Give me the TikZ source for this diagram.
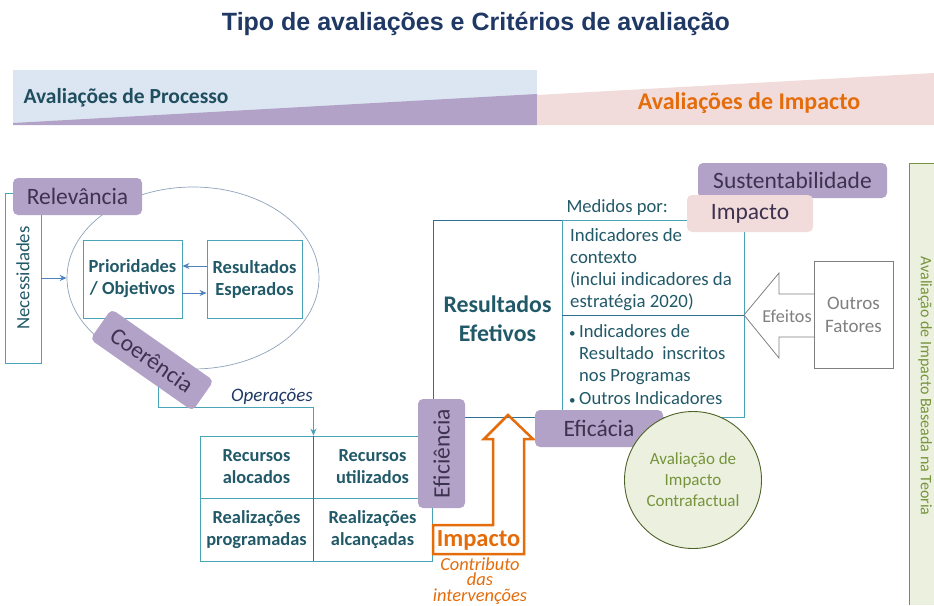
\documentclass[tikz,border=0pt]{standalone}
\usepackage{fontspec}
\setmainfont{Carlito}
\newfontfamily\titlefont{Liberation Sans}
\usetikzlibrary{shapes.geometric,arrows.meta}
\definecolor{cNavy}{HTML}{1F3864}
\definecolor{cDark}{HTML}{1F4E5F}
\definecolor{cTeal}{HTML}{215968}
\definecolor{cTealL}{HTML}{4BA3B8}
\definecolor{cTealD}{HTML}{2F6F8F}
\definecolor{cPurple}{HTML}{B3A2C7}
\definecolor{cPText}{HTML}{3D3350}
\definecolor{cPink}{HTML}{F2DCDB}
\definecolor{cBlue}{HTML}{DCE6F2}
\definecolor{cOrange}{HTML}{E46C0A}
\definecolor{cGreenL}{HTML}{EBF1DE}
\definecolor{cOlive}{HTML}{77933C}
\definecolor{cOliveD}{HTML}{4F6228}
\definecolor{cGray}{HTML}{7F7F7F}
\definecolor{cArrow}{HTML}{4F81BD}
\definecolor{cEll}{HTML}{8DA2BA}
\begin{document}
\begin{tikzpicture}[x=1pt,y=-1pt,
  tbox/.style={draw=cTealL, line width=0.9pt, inner sep=0pt, align=center, text=cTeal},
  plabel/.style={fill=cPurple, rounded corners=5pt, inner sep=0pt, text=cPText, font=\fontsize{23.5}{26}\selectfont},
  arr/.style={-{Stealth[length=7pt,width=6pt]}, draw=cArrow, line width=0.9pt},
  boldtxt/.style={font=\bfseries\fontsize{18.4}{22}\selectfont}]
\useasboundingbox (0,0) rectangle (934,605);

% banner
\fill[cBlue] (13,70) rectangle (537,125);
\fill[cPurple] (13,123) -- (537,94) -- (537,125) -- (13,125) -- cycle;
\fill[cPink] (537,95) -- (934,73) -- (934,125) -- (537,125) -- cycle;
\node[anchor=west, text=cDark, font=\bfseries\fontsize{21.5}{24}\selectfont] (proc) at (20,98) {Avaliações de Processo};
\node[text=cOrange, font=\bfseries\fontsize{24}{26}\selectfont] (impt) at (749,103) {Avaliações de Impacto};

% title
\node[text=cNavy, font=\titlefont\bfseries\fontsize{25}{28}\selectfont] (title) at (476,24) {Tipo de avaliações e Critérios de avaliação};

% ellipse and inner boxes
\node[ellipse, draw=cEll, line width=0.7pt, minimum width=252pt, minimum height=182pt, inner sep=0pt] (ell) at (193,278) {};
\node[tbox, minimum width=36pt, minimum height=170pt] (nec) at (23,278) {};
\node[rotate=90, text=cTeal, font=\fontsize{18.8}{20}\selectfont] (nect) at (nec.center) {Necessidades};
\node[tbox, font=\bfseries\fontsize{18.5}{22}\selectfont, minimum width=99pt, minimum height=78pt] (prio) at (132.5,279) {Prioridades\\/ Objetivos};
\node[tbox, font=\bfseries\fontsize{18.5}{22}\selectfont, minimum width=95pt, minimum height=78pt] (resE) at (254.5,279) {Resultados\\Esperados};
\draw[arr] (nec.east) -- (ell.west);
\draw[arr] ([yshift=13pt]resE.west) -- ([yshift=13pt]prio.east);
\draw[arr] ([yshift=-14pt]prio.east) -- ([yshift=-14pt]resE.west);

% table
\node[tbox, boldtxt, minimum width=113pt, minimum height=62pt] (rA) at (256.5,467) {Recursos\\alocados};
\node[tbox, boldtxt, minimum width=119pt, minimum height=62pt] (rU) at (372.5,467) {Recursos\\utilizados};
\node[tbox, boldtxt, minimum width=113pt, minimum height=63pt] (rP) at (256.5,529.5) {Realizações\\programadas};
\node[tbox, boldtxt, minimum width=119pt, minimum height=63pt] (rC) at (372.5,529.5) {Realizações\\alcançadas};
\draw[cTealD, line width=0.9pt] (rA.north east) -- (rP.south east);

% operations connector
\coordinate (opstart) at (158,380);
\draw[arr, draw=cTealL] (opstart) |- ([yshift=28pt]rA.north east) -- (rA.north east);
\node[text=cNavy, font=\itshape\fontsize{19}{20}\selectfont] (ops) at (272,397) {Operações};

% resultados efetivos
\node[draw=cTealD, line width=0.9pt, inner sep=0pt, minimum width=129pt, minimum height=197pt, align=center, text=cTeal, font=\bfseries\fontsize{23.8}{29}\selectfont] (ref) at (497.5,318.5) {Resultados\\Efetivos};
\node[tbox, minimum width=182pt, minimum height=95pt] (m1) at (653,267.5) {};
\node[tbox, minimum width=182pt, minimum height=102pt] (m2) at (653,366) {};
\draw[cTealD, line width=0.9pt] (m1.south west) -- (m1.south east);
\node[anchor=west, text=cTeal, font=\fontsize{18.6}{20}\selectfont] (med) at (563,208) {Medidos por:};
\node[anchor=north west, align=left, inner sep=0pt, text=cTeal, font=\fontsize{18.8}{22}\selectfont] (m1t) at (570,228) {Indicadores de\\contexto\\(inclui indicadores da\\estratégia 2020)};
\node[anchor=north west, align=left, inner sep=0pt, text=cTeal, font=\fontsize{18.6}{22.3}\selectfont] (m2t) at (569,324) {\makebox[10pt][l]{\scalebox{0.7}{\textbullet}}Indicadores de\\\hspace*{10pt}Resultado\ \ inscritos\\\hspace*{10pt}nos Programas\\\makebox[10pt][l]{\scalebox{0.7}{\textbullet}}Outros Indicadores};

% efeitos arrow and outros fatores
\node[draw=cGray, line width=0.8pt, minimum width=79pt, minimum height=107pt, inner sep=0pt, align=center, text=cGray, font=\fontsize{19}{23}\selectfont] (outros) at (853.5,314.5) {Outros\\Fatores};
\draw[cGray, line width=0.8pt, line join=miter] (815,294) -- (779,294) -- (779,273) -- (744,315) -- (779,358) -- (779,337) -- (815,337);
\node[text=cGray, font=\fontsize{18.2}{20}\selectfont] (ef) at (787,316) {Efeitos};

% theory box
\fill[cGreenL] (909,163) rectangle (934,605);
\draw[cOlive, line width=0.9pt] (934,163) -- (909,163) -- (909,605);
\node[rotate=-90, text=cOlive, font=\fontsize{16}{18}\selectfont] (teoria) at (925,386) {Avaliação de Impacto Baseada na Teoria};

% eficiencia
\node[plabel, rotate=90, minimum width=109pt, minimum height=47pt] (efic) at (441.5,453.5) {Eficiência};

% orange impact arrow
\draw[cOrange, line width=2.5pt, line join=miter] (433,554) -- (433,525) -- (493,525) -- (493,439) -- (484,439) -- (508,415) -- (533,439) -- (524,439) -- (524,554) -- cycle;
\node[text=cOrange, font=\bfseries\fontsize{24.5}{26}\selectfont] (impk) at (478.5,540) {Impacto};
\node[text=cOrange, font=\itshape\fontsize{18.4}{15.6}\selectfont, align=center] (contrib) at (480,581) {Contributo\\das\\intervenções};

% eficacia and circle
\node[plabel, minimum width=128pt, minimum height=37pt] (efica) at (599,428.5) {Eficácia};
\node[circle, draw=cOliveD, line width=0.9pt, fill=cGreenL, minimum size=137pt, inner sep=0pt, align=center, text=cOlive, font=\fontsize{17}{21}\selectfont] (contra) at (693,480) {Avaliação de\\Impacto\\Contrafactual};

% labels
\node[plabel, minimum width=129pt, minimum height=37pt] (rel) at (77.5,196.5) {Relevância};
\node[plabel, rotate=-35, minimum width=125pt, minimum height=37pt] (coer) at (152,360) {Coerência};
\node[plabel, minimum width=189pt, minimum height=35pt] (sust) at (792.5,180.5) {Sustentabilidade};
\node[plabel, fill=cPink, minimum width=126pt, minimum height=37pt] (imp) at (750,213.5) {Impacto};
\end{tikzpicture}
\end{document}
